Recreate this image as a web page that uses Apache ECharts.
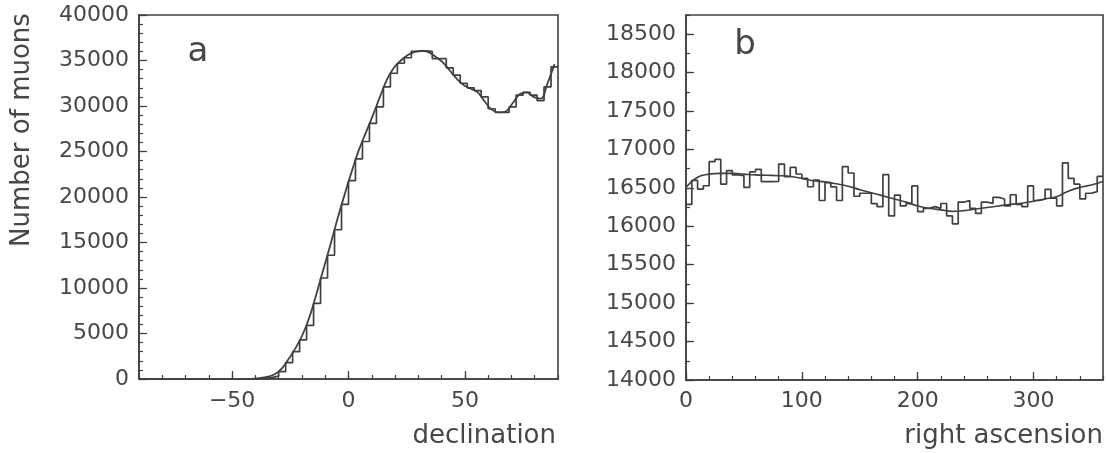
<!DOCTYPE html>
<html><head><meta charset="utf-8">
<script src="https://cdn.jsdelivr.net/npm/echarts@6/dist/echarts.min.js"></script>
<style>html,body{margin:0;padding:0;background:#fff}#c{width:1108px;height:453px}</style>
</head><body><div id="c"></div>
<script>
// Panel a: declination histogram, 3-degree bins from -90 to 90
const decBinStart = -90, decBinWidth = 3;
const decCounts = [0,0,0,0,0,0,0,0,0,0,0,0,0,0,0,
  0,20,60,150,320,800,1800,3000,4300,5900,8300,11100,13600,16400,19200,
  21800,24200,26100,28100,29900,32100,33600,34700,35300,36000,36050,36000,35200,35200,34200,
  33400,32500,32000,31700,31000,29700,29300,29300,29900,31200,31500,31200,30600,32100,34300];
// smooth fit, sampled at bin centres starting at -43.5
const decFitStart = -43.5;
const decFit = [0,40,120,260,550,1200,2300,3500,5000,7000,9600,12300,15000,17800,20400,
  22900,25200,27100,29000,31000,32900,34200,35000,35600,35950,36050,35900,35400,34800,33900,
  33000,32300,31900,31500,30500,29600,29300,29400,30300,31300,31500,31000,30800,32500,34600];
const decTicks = [-50,0,50];

// Panel b: right ascension histogram, 5-degree bins from 0 to 360
const raBinStart = 0, raBinWidth = 5;
const raCounts = [16285,16598,16485,16528,16841,16871,16548,16724,16669,16659,
  16507,16709,16740,16581,16581,16583,16810,16646,16767,16681,
  16625,16515,16602,16336,16568,16512,16336,16776,16694,16391,
  16430,16430,16295,16256,16672,16135,16407,16265,16295,16525,
  16190,16234,16256,16234,16297,16135,16033,16315,16336,16234,
  16169,16315,16299,16377,16356,16265,16411,16285,16256,16525,
  16336,16356,16481,16366,16265,16825,16625,16548,16356,16430,
  16451,16649];
const raFitX = [0,10,20,30,40,50,60,70,80,90,100,110,120,130,140,150,160,170,180,190,200,210,220,230,240,250,260,270,280,290,300,310,320,330,340,350,360];
const raFit = [16507,16639,16679,16689,16689,16679,16669,16664,16659,16649,16623,16593,16578,16553,16522,16477,16437,16396,16356,16315,16265,16235,16214,16194,16204,16225,16245,16265,16285,16300,16326,16356,16386,16457,16507,16538,16583];
const raTicks = [0,100,200,300];
const raCountTicks = [14000,14500,15000,15500,16000,16500,17000,17500,18000,18500];

const INK = '#404040';
const FONT = 'DejaVu Sans';
const plain = v => String(v).replace('-', '\u2212');
const lab = {color: '#474747', fontFamily: FONT, fontSize: 22, formatter: plain};

function histData(start, width, vals) {
  const d = vals.map((v, i) => [start + width * i, v]);
  d.push([start + width * vals.length, vals[vals.length - 1]]);
  return d;
}

const chart = echarts.init(document.getElementById('c'), null, {renderer: 'canvas'});
const line = {show: true, onZero: false, lineStyle: {color: INK, width: 1.6}};
chart.setOption({
  animation: false,
  backgroundColor: '#fff',
  grid: [
    {left: 139, top: 15, width: 419, height: 364, show: true, borderColor: INK, borderWidth: 1.6, containLabel: false},
    {left: 686, top: 15, width: 417, height: 365, show: true, borderColor: INK, borderWidth: 1.6, containLabel: false}
  ],
  xAxis: [
    {gridIndex: 0, type: 'value', min: -90, max: 90, position: 'bottom', axisLine: line,
      axisTick: {show: true, inside: true, length: 8, customValues: decTicks, lineStyle: {color: INK, width: 1.3}},
      axisLabel: Object.assign({customValues: decTicks, margin: 11}, lab),
      splitLine: {show: false}},
    {gridIndex: 0, type: 'value', min: -90, max: 90, interval: 10, position: 'bottom', offset: 0,
      axisLine: {show: false, onZero: false}, axisLabel: {show: false}, splitLine: {show: false},
      axisTick: {show: true, inside: true, length: 4, lineStyle: {color: INK, width: 1.2}}},
    {gridIndex: 1, type: 'value', min: 0, max: 360, position: 'bottom', axisLine: line,
      axisTick: {show: true, inside: true, length: 8, customValues: raTicks, lineStyle: {color: INK, width: 1.3}},
      axisLabel: Object.assign({customValues: raTicks, margin: 10}, lab),
      splitLine: {show: false}},
    {gridIndex: 1, type: 'value', min: 0, max: 360, interval: 20, position: 'bottom', offset: 0,
      axisLine: {show: false, onZero: false}, axisLabel: {show: false}, splitLine: {show: false},
      axisTick: {show: true, inside: true, length: 4, lineStyle: {color: INK, width: 1.2}}}
  ],
  yAxis: [
    {gridIndex: 0, type: 'value', min: 0, max: 40000, interval: 5000, position: 'left', axisLine: line,
      axisTick: {show: true, inside: true, length: 8, lineStyle: {color: INK, width: 1.3}},
      minorTick: {show: true, splitNumber: 5, length: 4, lineStyle: {color: INK, width: 1.2}},
      axisLabel: Object.assign({margin: 10}, lab),
      splitLine: {show: false}},
    {gridIndex: 1, type: 'value', min: 14000, max: 18750, position: 'left', axisLine: line,
      axisTick: {show: true, inside: true, length: 8, customValues: raCountTicks, lineStyle: {color: INK, width: 1.3}},
      axisLabel: Object.assign({customValues: raCountTicks, margin: 10}, lab),
      splitLine: {show: false}},
    {gridIndex: 1, type: 'value', min: 14000, max: 18750, interval: 250, position: 'left', offset: 0,
      axisLine: {show: false, onZero: false}, axisLabel: {show: false}, splitLine: {show: false},
      axisTick: {show: true, inside: true, length: 4, lineStyle: {color: INK, width: 1.2}}}
  ],
  series: [
    {type: 'line', xAxisIndex: 0, yAxisIndex: 0, step: 'end', showSymbol: false,
      data: histData(decBinStart, decBinWidth, decCounts),
      lineStyle: {color: INK, width: 1.7}},
    {type: 'line', xAxisIndex: 0, yAxisIndex: 0, smooth: 0.4, showSymbol: false,
      data: decFit.map((v, i) => [decFitStart + decBinWidth * i, v]),
      lineStyle: {color: INK, width: 1.8}},
    {type: 'line', xAxisIndex: 2, yAxisIndex: 1, step: 'end', showSymbol: false,
      data: histData(raBinStart, raBinWidth, raCounts),
      lineStyle: {color: INK, width: 1.7}},
    {type: 'line', xAxisIndex: 2, yAxisIndex: 1, smooth: 0.4, showSymbol: false,
      data: raFit.map((v, i) => [raFitX[i], v]),
      lineStyle: {color: INK, width: 1.6}}
  ],
  graphic: [
    {type: 'text', x: 198, y: 52, style: {text: 'a', fill: '#474747', font: '34px "DejaVu Sans"', textAlign: 'center', textVerticalAlign: 'middle'}},
    {type: 'text', x: 745, y: 45, style: {text: 'b', fill: '#474747', font: '34px "DejaVu Sans"', textAlign: 'center', textVerticalAlign: 'middle'}},
    {type: 'text', x: 22, y: 130, rotation: Math.PI / 2, style: {text: 'Number of muons', fill: '#474747', font: '26px "DejaVu Sans"', textAlign: 'center', textVerticalAlign: 'middle'}},
    {type: 'text', x: 556, y: 436, style: {text: 'declination', fill: '#474747', font: '26px "DejaVu Sans"', textAlign: 'right', textVerticalAlign: 'middle'}},
    {type: 'text', x: 1103, y: 436, style: {text: 'right ascension', fill: '#474747', font: '26px "DejaVu Sans"', textAlign: 'right', textVerticalAlign: 'middle'}}
  ]
});
</script></body></html>
